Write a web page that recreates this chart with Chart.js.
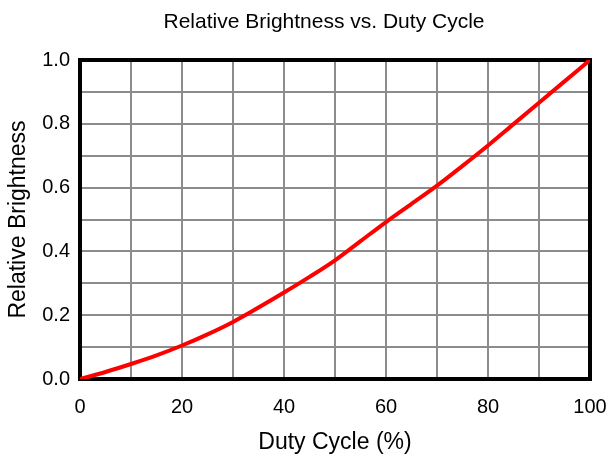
<!DOCTYPE html>
<html>
<head>
<meta charset="utf-8">
<script src="https://cdn.jsdelivr.net/npm/chart.js@4.4.0/dist/chart.umd.min.js"></script>
<style>
  html, body { margin: 0; padding: 0; background: #fff; }
  #wrap { width: 606px; height: 456px; }
</style>
</head>
<body>
<div id="wrap"><canvas id="chart" width="606" height="456"></canvas></div>
<script>
// Valores
const dutyCycle = [0, 5, 10, 15, 20, 25, 30, 35, 40, 45, 50, 55, 60, 65, 70, 75, 80, 85, 90, 95, 100];
const brightness = [0, 0.022, 0.047, 0.074, 0.105, 0.14, 0.179, 0.224, 0.271, 0.32, 0.372, 0.432, 0.492, 0.549, 0.606, 0.668, 0.732, 0.799, 0.866, 0.933, 1.0];
const xTicks = [0, 20, 40, 60, 80, 100];
const yTicks = [0, 0.2, 0.4, 0.6, 0.8, 1.0];

const chartTitle = 'Relative Brightness vs. Duty Cycle';
const fontFamily = '"Liberation Sans", Arial, sans-serif';

// Título e moldura desenhados à mão
const framePlugin = {
  id: 'frame',
  beforeDatasetsDraw(chart) {
    const a = chart.chartArea;
    const ctx = chart.ctx;
    ctx.save();
    ctx.strokeStyle = '#000';
    ctx.lineWidth = 4;
    ctx.strokeRect(a.left, a.top, a.right - a.left, a.bottom - a.top);
    ctx.restore();
  },
  afterDraw(chart) {
    const ctx = chart.ctx;
    ctx.save();
    ctx.fillStyle = '#000';
    ctx.font = '21px ' + fontFamily;
    ctx.textAlign = 'center';
    ctx.textBaseline = 'middle';
    ctx.fillText(chartTitle, 324, 22);
    ctx.restore();
  }
};

const ctx = document.getElementById('chart').getContext('2d');
new Chart(ctx, {
  type: 'line',
  data: {
    datasets: [{
      data: dutyCycle.map((x, i) => ({ x: x, y: brightness[i] })),
      borderColor: '#ff0000',
      borderWidth: 4,
      pointRadius: 0,
      tension: 0.3,
      cubicInterpolationMode: 'monotone',
      fill: false
    }]
  },
  options: {
    responsive: false,
    animation: false,
    layout: { padding: { top: 60, right: 16, left: 0, bottom: 0 } },
    plugins: {
      legend: { display: false },
      title: { display: false },
      tooltip: { enabled: false }
    },
    scales: {
      x: {
        type: 'linear',
        min: 0,
        max: 100,
        afterFit(scale) {
          scale.height = 77;
          scale.paddingLeft = 0;
          scale.paddingRight = 0;
        },
        grid: { color: '#8c8c8c', lineWidth: 2, drawTicks: false },
        border: { display: false },
        ticks: {
          stepSize: 10,
          autoSkip: false,
          maxRotation: 0,
          padding: 16,
          color: '#000',
          font: { family: fontFamily, size: 20 },
          callback: v => xTicks.includes(v) ? String(v) : ''
        },
        title: {
          display: true,
          text: 'Duty Cycle (%)',
          color: '#000',
          font: { family: fontFamily, size: 23 },
          padding: { top: 2, bottom: 0 }
        }
      },
      y: {
        min: 0,
        max: 1,
        afterFit(scale) {
          scale.width = 80;
          scale.paddingTop = 0;
          scale.paddingBottom = 0;
        },
        grid: { color: '#8c8c8c', lineWidth: 2, drawTicks: false },
        border: { display: false },
        ticks: {
          stepSize: 0.1,
          autoSkip: false,
          padding: 10,
          color: '#000',
          font: { family: fontFamily, size: 20 },
          callback: v => yTicks.some(t => Math.abs(t - v) < 1e-6) ? v.toFixed(1) : ''
        },
        title: {
          display: true,
          text: 'Relative Brightness',
          color: '#000',
          font: { family: fontFamily, size: 23 },
          padding: { top: 5, bottom: 0 }
        }
      }
    }
  },
  plugins: [framePlugin]
});
</script>
</body>
</html>
